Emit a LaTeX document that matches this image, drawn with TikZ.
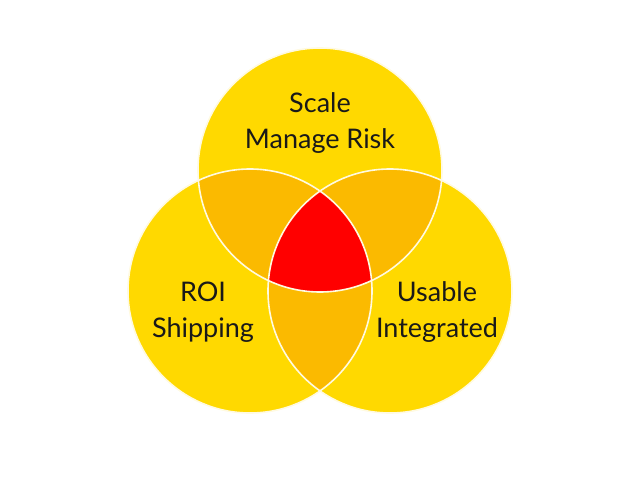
\documentclass[tikz,border=0pt]{standalone}
\usepackage{fontspec}
\setmainfont{Lato}
\definecolor{vyellow}{RGB}{255,217,0}
\definecolor{vorange}{RGB}{251,186,0}
\definecolor{vred}{RGB}{255,0,0}
\definecolor{vline}{RGB}{255,250,225}
\begin{document}
\begin{tikzpicture}[x=1pt,y=-1pt,
  lbl/.style={align=center,font=\fontsize{27}{36}\selectfont,text=black!90,inner sep=0pt},
  ring/.style={draw=vline,line width=1.6pt}]
\useasboundingbox (0,0) rectangle (638,479);
\coordinate (T) at (320,170);
\coordinate (L) at (250,291);
\coordinate (R) at (390,291);
% base circles
\fill[vyellow] (T) circle[radius=122pt] (L) circle[radius=122pt] (R) circle[radius=122pt];
% pairwise overlaps
\begin{scope}
  \clip (T) circle[radius=122pt];
  \fill[vorange] (L) circle[radius=122pt] (R) circle[radius=122pt];
\end{scope}
\begin{scope}
  \clip (L) circle[radius=122pt];
  \fill[vorange] (R) circle[radius=122pt];
\end{scope}
% triple overlap
\begin{scope}
  \clip (T) circle[radius=122pt];
  \clip (L) circle[radius=122pt];
  \fill[vred] (R) circle[radius=122pt];
\end{scope}
% outlines
\path[ring] (T) circle[radius=122pt] (L) circle[radius=122pt] (R) circle[radius=122pt];
% labels
\node[lbl] (top) at (320,123) {Scale\\Manage Risk};
\node[lbl] (left) at (203,312) {ROI\\Shipping};
\node[lbl] (right) at (437,312) {Usable\\Integrated};
\end{tikzpicture}
\end{document}
